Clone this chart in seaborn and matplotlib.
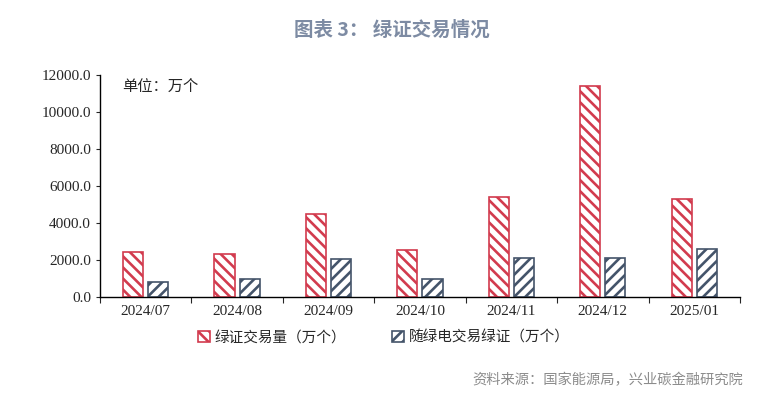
import pandas as pd
import numpy as np
import matplotlib
matplotlib.use('Agg')
import matplotlib.pyplot as plt
import seaborn as sns
from matplotlib.patches import Patch

sns.set_style('ticks')
plt.rcParams['font.family'] = ['Liberation Serif', 'Noto Sans CJK SC', 'DejaVu Sans']
plt.rcParams['hatch.linewidth'] = 1.9

months = ['2024/07', '2024/08', '2024/09', '2024/10', '2024/11', '2024/12', '2025/01']
green_cert = [2450, 2330, 4500, 2550, 5400, 11400, 5300]
bundled_cert = [820, 980, 2060, 990, 2120, 2120, 2620]
series = ['绿证交易量（万个）', '随绿电交易绿证（万个）']
colors = ['#D23B4E', '#44546A']
hatches = ['\\\\\\', '///']

data = pd.DataFrame({
    'month': months * 2,
    'value': green_cert + bundled_cert,
    'series': [series[0]] * len(months) + [series[1]] * len(months),
})

fig = plt.figure(figsize=(7.72, 3.99), dpi=100)
ax = fig.add_axes([0.1295, 0.2556, 0.829, 0.5565])
sns.barplot(data=data, x='month', y='value', hue='series', palette=colors,
            width=0.55, gap=0.2, ax=ax, legend=False)

for cont, c, h in zip(ax.containers, colors, hatches):
    for bar in cont:
        bar.set_facecolor('white')
        bar.set_edgecolor(c)
        bar.set_hatch(h)
        bar.set_linewidth(1.2)

ax.set_ylim(0, 12000)
ax.set_yticks(np.arange(0, 12001, 2000))
ax.set_yticklabels(['%.1f' % v for v in np.arange(0, 12001, 2000)], fontsize=11)
ax.set_xlim(-0.5, len(months) - 0.5)
ax.set_xticks(np.arange(len(months) + 1) - 0.5, minor=False)
ax.set_xticklabels([])
ax.set_xticks(np.arange(len(months)), minor=True)
ax.set_xticklabels(months, minor=True, fontsize=11)
ax.tick_params(axis='x', which='minor', length=0, pad=6)
ax.tick_params(axis='x', which='major', length=4, direction='out')
ax.tick_params(axis='y', length=3, direction='out')
ax.set_xlabel('')
ax.set_ylabel('')
sns.despine(ax=ax)
for s in ['left', 'bottom']:
    ax.spines[s].set_color('black')
    ax.spines[s].set_linewidth(1)

ax.text(0.035, 0.985, '单位：万个', transform=ax.transAxes, fontsize=11,
        va='top', ha='left', family=['Noto Sans CJK SC'])

handles = [Patch(facecolor='white', edgecolor=c, hatch=h, linewidth=1.2)
           for c, h in zip(colors, hatches)]
fig.legend(handles, series, loc='center', bbox_to_anchor=(0.497, 0.153), ncol=2,
           frameon=False, handlelength=0.8, handleheight=0.8, handletextpad=0.3,
           columnspacing=3.2, prop={'family': 'Noto Sans CJK SC', 'size': 10.5})

fig.text(0.508, 0.925, '图表 3： 绿证交易情况', ha='center', va='center',
         fontsize=14, fontweight='bold', color='#7D8BA3', family=['Noto Sans CJK SC'])
fig.text(0.963, 0.048, '资料来源：国家能源局，兴业碳金融研究院', ha='right', va='center',
         fontsize=10.3, color='#8C8C8C', family=['Noto Sans CJK SC'])

fig.savefig('out.png', dpi=100)
